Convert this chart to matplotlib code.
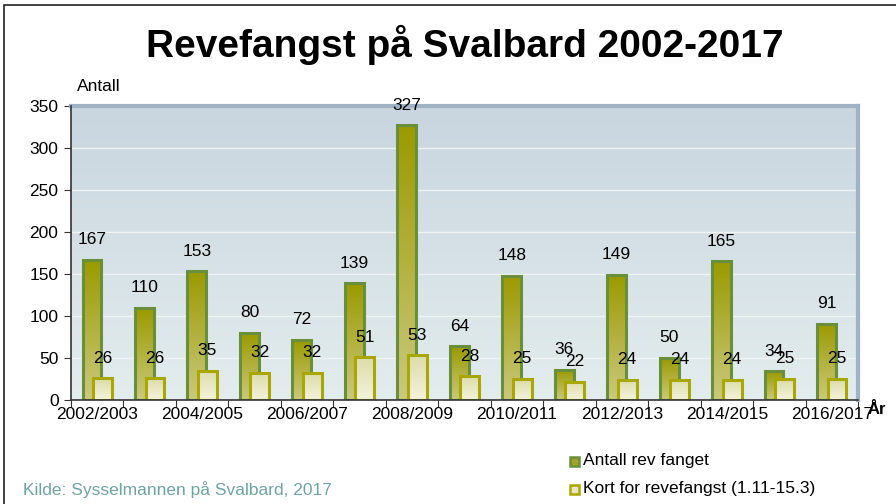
import numpy as np
import matplotlib
matplotlib.use("Agg")
import matplotlib.pyplot as plt
from matplotlib.patches import Rectangle
from matplotlib.colors import LinearSegmentedColormap

seasons = ["2002/2003", "2003/2004", "2004/2005", "2005/2006", "2006/2007",
           "2007/2008", "2008/2009", "2009/2010", "2010/2011", "2011/2012",
           "2012/2013", "2013/2014", "2014/2015", "2015/2016", "2016/2017"]
antall_rev = [167, 110, 153, 80, 72, 139, 327, 64, 148, 36, 149, 50, 165, 34, 91]
kort = [26, 26, 35, 32, 32, 51, 53, 28, 25, 22, 24, 24, 24, 25, 25]
yticks = [0, 50, 100, 150, 200, 250, 300, 350]

plt.rcParams['font.family'] = ['Liberation Sans', 'DejaVu Sans']
FS = 12.5

fig = plt.figure(figsize=(8.96, 5.04), dpi=100)
ax = fig.add_axes([71/896, 1-400/504, (858-71)/896, (400-106)/504])

x = np.arange(len(seasons))
ax.set_xlim(-0.5, len(seasons)-0.5)
ax.set_ylim(0, 350)

# background gradient
bg = LinearSegmentedColormap.from_list("bg", ["#e3edee", "#c9d5df"])
grad = np.linspace(0, 1, 256).reshape(-1, 1)
ax.imshow(grad, cmap=bg, aspect='auto', extent=(-0.5, len(seasons)-0.5, 0, 350),
          origin='lower', zorder=0)

for yv in yticks[1:-1]:
    ax.axhline(yv, color="#eef3f4", lw=1.0, zorder=1)

green_cmap = LinearSegmentedColormap.from_list("g", ["#cbc97e", "#9a9a00"])
yellow_cmap = LinearSegmentedColormap.from_list("y", ["#f4f3dc", "#dcdcaa"])

w = 0.36
b1 = ax.bar(x - 0.1, antall_rev, width=w, facecolor="none", edgecolor="#6a8f3a",
            linewidth=2.2, zorder=4)
b2 = ax.bar(x + 0.1, kort, width=w, facecolor="none", edgecolor="#a9a800",
            linewidth=2.2, zorder=6)

for bars, cmap, z in ((b1, green_cmap, 3), (b2, yellow_cmap, 5)):
    for p in bars:
        x0, y0 = p.get_x(), p.get_y()
        ww, hh = p.get_width(), p.get_height()
        im = ax.imshow(grad, cmap=cmap, aspect='auto', extent=(x0, x0+ww, y0, y0+hh),
                       origin='lower', zorder=z)
        im.set_clip_path(p)

for bars, vals in ((b1, antall_rev), (b2, kort)):
    for p, v in zip(bars, vals):
        ax.annotate(str(v), (p.get_x()+p.get_width()/2, v), xytext=(0, 14.5),
                    textcoords='offset points', ha='center', va='center',
                    fontsize=FS, zorder=8, annotation_clip=False)

ax.set_xlim(-0.5, len(seasons)-0.5)
ax.set_ylim(0, 350)

ax.set_yticks(yticks)
ax.set_yticklabels([str(t) for t in yticks], fontsize=FS)
ax.set_xticks(np.arange(len(seasons)+1) - 0.5)
ax.set_xticklabels([])
ax.set_xticks(x[::2], minor=True)
ax.set_xticklabels([seasons[i] for i in x[::2]], minor=True, fontsize=FS)
ax.tick_params(axis='x', which='major', direction='out', length=5, color="#333333")
ax.tick_params(axis='x', which='minor', length=0, pad=5)
ax.tick_params(axis='y', direction='out', length=5, color="#333333", pad=4)

for s in ("left", "bottom"):
    ax.spines[s].set_color("#333333")
    ax.spines[s].set_linewidth(1.2)
    ax.spines[s].set_zorder(9)
for s in ("top", "right"):
    ax.spines[s].set_color("#9fb2c6")
    ax.spines[s].set_linewidth(3)

fig.text(465/896, 1-45/504, "Revefangst på Svalbard 2002-2017", ha='center', va='center',
         fontsize=28, fontweight='bold')
fig.text(77/896, 1-86/504, "Antall", ha='left', va='center', fontsize=FS)
fig.text(868/896, 1-409/504, "År", ha='left', va='center', fontsize=12, fontweight='bold')
fig.text(23/896, 1-490/504, "Kilde: Sysselmannen på Svalbard, 2017", ha='left', va='center',
         fontsize=FS, color="#6fa3a3")

# legend
for yy, fc, ec, label in ((461, "#a3a12a", "#6a8f3a", "Antall rev fanget"),
                          (489, "#e8e7c0", "#a9a800", "Kort for revefangst (1.11-15.3)")):
    fig.patches.append(Rectangle(((570)/896, 1-(yy+5)/504), 9/896, 9/504, transform=fig.transFigure,
                                 facecolor=fc, edgecolor=ec, linewidth=1.8))
    fig.text(583/896, 1-yy/504, label, ha='left', va='center', fontsize=FS)

# outer frame (left and top edges visible)
fig.patches.append(Rectangle((4/896, -0.1), 1.2, 1-5/504+0.1, transform=fig.transFigure,
                             facecolor='none', edgecolor='#222222', linewidth=1.2))

fig.savefig("out.png", dpi=100)
